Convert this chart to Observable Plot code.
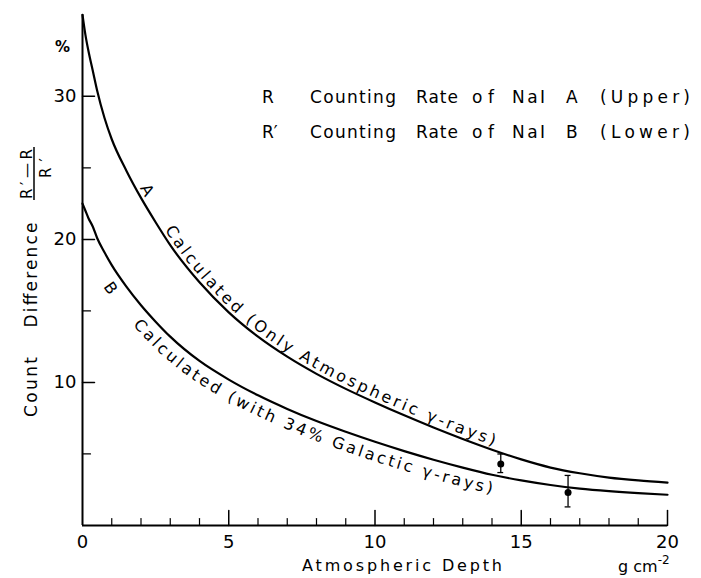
<!DOCTYPE html>
<html><head><meta charset="utf-8">
<script src="https://cdn.jsdelivr.net/npm/d3@7"></script>
<script src="https://cdn.jsdelivr.net/npm/@observablehq/plot@0.6"></script>
<style>
body{margin:0;background:#fff}
svg text{font-family:"DejaVu Sans",sans-serif}
</style>
</head><body><div id="chart"></div>
<script>
// Atmospheric depth (g cm^-2)
const depth  = [0, 0.1, 0.2, 0.35, 0.5, 0.75, 1, 1.5, 2, 2.5, 3, 4, 5, 6, 7, 8, 9, 10, 11, 12, 13, 14, 15, 16, 17, 18, 19, 20];
// Curve A: calculated (only atmospheric gamma-rays), %
const curveA = [35.7, 34.3, 33.2, 31.8, 30.4, 28.5, 27.0, 24.8, 22.9, 21.2, 19.6, 17.0, 14.9, 13.2, 11.8, 10.6, 9.55, 8.6, 7.7, 6.85, 6.05, 5.3, 4.62, 4.05, 3.65, 3.35, 3.15, 3.0];
// Curve B: calculated (with 34% galactic gamma-rays), %
const curveB = [22.5, 22.0, 21.5, 20.9, 20.1, 19.1, 18.2, 16.7, 15.4, 14.25, 13.2, 11.5, 10.2, 9.1, 8.15, 7.3, 6.55, 5.85, 5.2, 4.6, 4.05, 3.55, 3.15, 2.83, 2.58, 2.4, 2.26, 2.15];
// Observed points
const obsX  = [14.3, 16.6];
const obsY  = [4.3, 2.3];
const obsLo = [3.7, 1.3];
const obsHi = [5.0, 3.5];
// Ticks
const xMajor = [5, 10, 15, 20];
const xMinor = [1, 2, 3, 4, 6, 7, 8, 9, 11, 12, 13, 14, 16, 17, 18, 19];
const xLabels = [0, 5, 10, 15, 20];
const yMajor = [10, 20, 30];
const yMinor = [5, 15, 25];
// Curve label texts
const labelA = "A", textA = "Calculated (Only Atmospheric \u03B3-rays)";
const labelB = "B", textB = "Calculated (with 34% Galactic \u03B3-rays)";

const rowsA = depth.map((d, i) => ({x: d, y: curveA[i]}));
const rowsB = depth.map((d, i) => ({x: d, y: curveB[i]}));
const obs = obsX.map((x, i) => ({x, y: obsY[i], lo: obsLo[i], hi: obsHi[i]}));

const tickShape = {draw(ctx, l) { ctx.moveTo(0, 0); ctx.lineTo(0, -l); }};
const font = "DejaVu Sans, sans-serif";

const plot = Plot.plot({
  width: 701, height: 578,
  marginLeft: 82, marginRight: 34, marginTop: 10, marginBottom: 53,
  x: {domain: [0, 20]},
  y: {domain: [0, 36]},
  style: {fontFamily: font, fontSize: "18px", color: "black", background: "white"},
  marks: [
    Plot.ruleX([0], {y1: 0, y2: curveA[0], strokeWidth: 2}),
    Plot.ruleY([0], {x1: 0, x2: 20, strokeWidth: 2}),
    Plot.vector(xMajor, {x: d => d, y: 0, length: 15, rotate: 0, anchor: "start", shape: tickShape, strokeWidth: 1.5}),
    Plot.vector(xMinor, {x: d => d, y: 0, length: 7, rotate: 0, anchor: "start", shape: tickShape, strokeWidth: 1.2}),
    Plot.vector(yMajor, {x: 0, y: d => d, length: 12, rotate: 90, anchor: "start", shape: tickShape, strokeWidth: 1.5}),
    Plot.vector(yMinor, {x: 0, y: d => d, length: 8, rotate: 90, anchor: "start", shape: tickShape, strokeWidth: 1.2}),
    Plot.axisX({ticks: xLabels, tickSize: 0, tickPadding: 10, label: null, fontSize: 18}),
    Plot.axisY({ticks: yMajor, tickSize: 0, tickPadding: 6, label: null, fontSize: 18}),
    Plot.line(rowsA, {x: "x", y: "y", curve: "monotone-x", strokeWidth: 2.2}),
    Plot.line(rowsB, {x: "x", y: "y", curve: "monotone-x", strokeWidth: 2.2}),
    Plot.ruleX(obs, {x: "x", y1: "lo", y2: "hi", strokeWidth: 1.3}),
    Plot.ruleY(obs, {y: "hi", x1: d => d.x - 0.1, x2: d => d.x + 0.1, strokeWidth: 1.3}),
    Plot.ruleY(obs, {y: "lo", x1: d => d.x - 0.1, x2: d => d.x + 0.1, strokeWidth: 1.3}),
    Plot.dot(obs, {x: "x", y: "y", r: 3.5, fill: "black"})
  ]
});
document.getElementById("chart").appendChild(plot);

const sx = plot.scale("x"), sy = plot.scale("y");
const svg = d3.select(plot);
const addText = () => svg.append("text").attr("text-anchor", "start").attr("fill", "black");

// Text along curves
function curveText(rows, off, id, pieces) {
  const line = d3.line().x(d => sx.apply(d.x)).y(d => sy.apply(d.y)).curve(d3.curveMonotoneX);
  const tmp = svg.append("path").attr("d", line(rows)).attr("fill", "none").attr("stroke", "none");
  const node = tmp.node(), L = node.getTotalLength(), N = 600;
  const P = d3.range(N + 1).map(i => node.getPointAtLength(L * i / N));
  const pts = P.map((p, i) => {
    const a = P[Math.max(0, i - 3)], b = P[Math.min(N, i + 3)];
    let tx = b.x - a.x, ty = b.y - a.y; const n = Math.hypot(tx, ty) || 1; tx /= n; ty /= n;
    return {src: p.x, x: p.x + off * ty, y: p.y - off * tx};
  });
  tmp.remove();
  const cum = [0];
  for (let i = 1; i < pts.length; i++) cum.push(cum[i - 1] + Math.hypot(pts[i].x - pts[i - 1].x, pts[i].y - pts[i - 1].y));
  svg.append("path").attr("id", id).attr("fill", "none").attr("stroke", "none")
    .attr("d", d3.line().x(d => d.x).y(d => d.y).curve(d3.curveBasis)(pts));
  const at = xd => { const px = sx.apply(xd); let i = pts.findIndex(p => p.src >= px); if (i < 0) i = pts.length - 1; return cum[i]; };
  for (const pc of pieces) {
    const s = at(pc.from), e = at(pc.to);
    const t = addText().attr("font-size", pc.size);
    if (pc.fit) t.attr("textLength", e - s).attr("lengthAdjust", "spacing");
    t.append("textPath").attr("href", "#" + id).attr("startOffset", s).text(pc.text);
  }
}
curveText(rowsA, 4, "pathA", [
  {text: labelA, from: 1.85, to: 2.2, size: 16},
  {text: textA, from: 2.7, to: 14.0, size: 16, fit: true}
]);
curveText(rowsB, -19, "pathB", [
  {text: labelB, from: 1.25, to: 1.7, size: 16},
  {text: textB, from: 2.2, to: 14.1, size: 16, fit: true}
]);

// Y axis title (rotated)
const yt = (x, y, txt, size, len) => addText()
  .attr("transform", `translate(${x},${y}) rotate(-90)`).attr("x", -len / 2)
  .attr("font-size", size).attr("textLength", len).attr("lengthAdjust", "spacing").text(txt);
yt(37, 387, "Count", 17, 60);
yt(37, 275, "Difference", 17, 105);
yt(32, 174, "R\u2032\u2014R", 15, 50);
yt(51, 168, "R\u2032", 15, 20);
svg.append("line").attr("x1", 34).attr("x2", 34).attr("y1", 147).attr("y2", 200).attr("stroke", "black").attr("stroke-width", 1.5);
addText().attr("x", 55).attr("y", 52).attr("font-size", 15).attr("font-weight", "bold").text("%");

// X axis title
addText().attr("x", 302).attr("y", 571).attr("font-size", 16).attr("textLength", 200).attr("lengthAdjust", "spacing").text("Atmospheric Depth");
const g = addText().attr("x", 618).attr("y", 572).attr("font-size", 16);
g.append("tspan").text("g cm");
g.append("tspan").attr("dy", -8).attr("font-size", 12).text("-2");

// Legend
const leg = [
  {y: 103, sym: "R", det: "A", pos: "(Upper)"},
  {y: 138, sym: "R\u2032", det: "B", pos: "(Lower)"}
];
for (const r of leg) {
  const t = (x, s, len) => {
    const e = addText().attr("x", x).attr("y", r.y).attr("font-size", 17).text(s);
    if (len) e.attr("textLength", len).attr("lengthAdjust", "spacing");
  };
  t(262, r.sym);
  t(310, "Counting", 86);
  t(416, "Rate", 42);
  t(472, "of", 22);
  t(512, "NaI", 33);
  t(566, r.det);
  t(600, r.pos, 90);
}
</script>
</body></html>
